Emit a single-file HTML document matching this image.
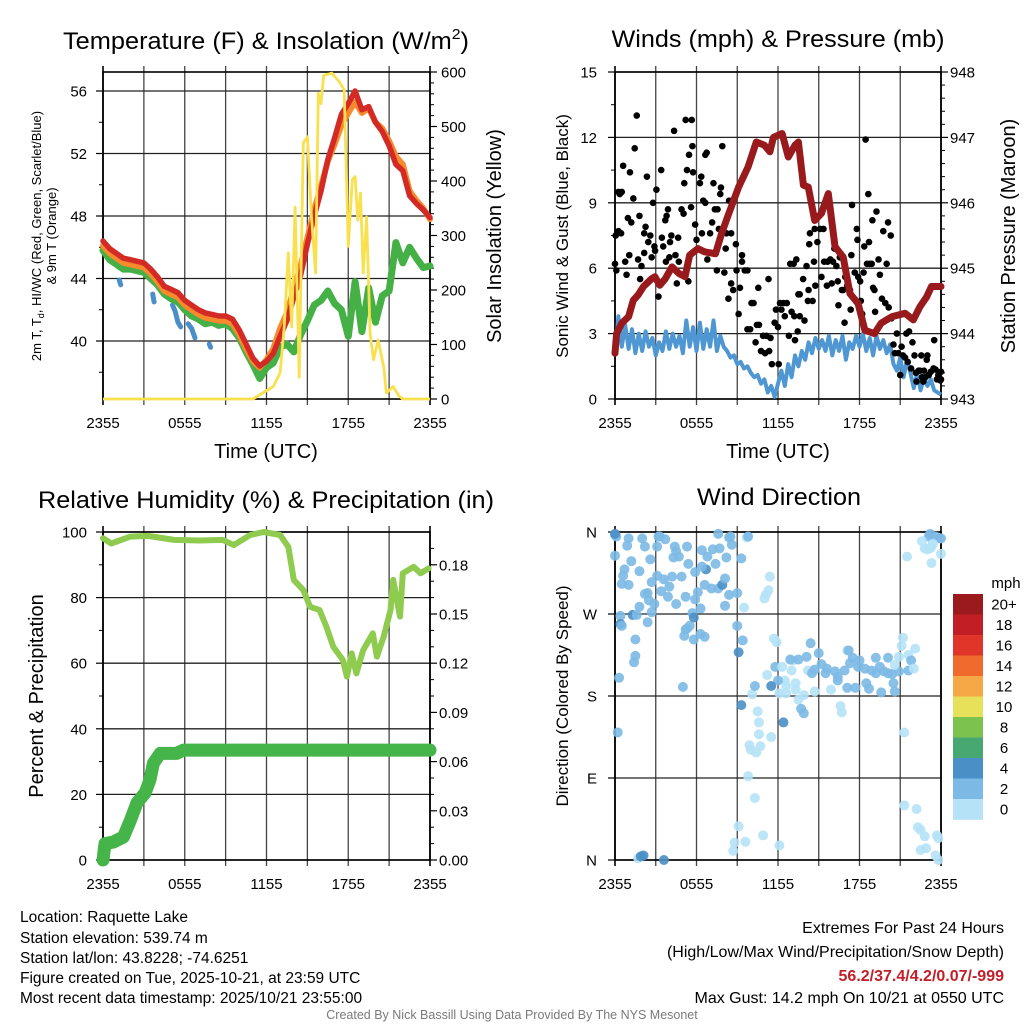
<!DOCTYPE html>
<html><head><meta charset="utf-8"><title>Raquette Lake Meteogram</title>
<style>
html,body{margin:0;padding:0;background:#fff;}
svg{display:block;font-family:"Liberation Sans",Arial,sans-serif;}
</style></head>
<body>
<svg id="chart" xmlns="http://www.w3.org/2000/svg" width="1024" height="1024" viewBox="0 0 1024 1024">
<rect x="0" y="0" width="1024" height="1024" fill="#fff"/>
<text x="266" y="49" font-size="24" text-anchor="middle" textLength="406" lengthAdjust="spacingAndGlyphs">Temperature (F) &amp; Insolation (W/m<tspan font-size="15" dy="-10">2</tspan><tspan dy="10">)</tspan></text>
<text x="778" y="47" font-size="24" text-anchor="middle" textLength="333" lengthAdjust="spacingAndGlyphs">Winds (mph) &amp; Pressure (mb)</text>
<text x="266" y="508" font-size="24" text-anchor="middle" textLength="456" lengthAdjust="spacingAndGlyphs">Relative Humidity (%) &amp; Precipitation (in)</text>
<text x="779" y="505" font-size="24" text-anchor="middle" textLength="164" lengthAdjust="spacingAndGlyphs">Wind Direction</text>

<text transform="translate(41,236) rotate(-90)" font-size="13" text-anchor="middle">2m T, T<tspan font-size="9" dy="3">d</tspan><tspan dy="-3">, HI/WC (Red, Green, Scarlet/Blue)</tspan></text>
<text transform="translate(56,236) rotate(-90)" font-size="13" text-anchor="middle">&amp; 9m T (Orange)</text>
<text transform="translate(501,236) rotate(-90)" font-size="20" text-anchor="middle">Solar Insolation (Yellow)</text>
<text transform="translate(568,236) rotate(-90)" font-size="17" text-anchor="middle">Sonic Wind &amp; Gust (Blue, Black)</text>
<text transform="translate(1015,236) rotate(-90)" font-size="20" text-anchor="middle">Station Pressure (Maroon)</text>
<text transform="translate(43,696) rotate(-90)" font-size="20" text-anchor="middle">Percent &amp; Precipitation</text>
<text transform="translate(568,696) rotate(-90)" font-size="17" text-anchor="middle">Direction (Colored By Speed)</text>
<text x="266" y="458" font-size="20" text-anchor="middle">Time (UTC)</text>
<text x="778" y="458" font-size="20" text-anchor="middle">Time (UTC)</text>

<g font-size="15.5">
<text x="20" y="922">Location: Raquette Lake</text>
<text x="20" y="943">Station elevation: 539.74 m</text>
<text x="20" y="963">Station lat/lon: 43.8228; -74.6251</text>
<text x="20" y="983">Figure created on Tue, 2025-10-21, at 23:59 UTC</text>
<text x="20" y="1003">Most recent data timestamp: 2025/10/21 23:55:00</text>
</g>
<g font-size="16" text-anchor="end">
<text x="1004" y="933">Extremes For Past 24 Hours</text>
<text x="1004" y="957">(High/Low/Max Wind/Precipitation/Snow Depth)</text>
<text x="1004" y="981" fill="#c0202a" font-weight="bold">56.2/37.4/4.2/0.07/-999</text>
<text x="1004" y="1003">Max Gust: 14.2 mph On 10/21 at 0550 UTC</text>
</g>
<text x="512" y="1019" font-size="12.5" fill="#7a7a7a" text-anchor="middle">Created By Nick Bassill Using Data Provided By The NYS Mesonet</text>
</svg>
<script>
// ---------- DATA ----------
const timeTicks = [0, 6, 12, 18, 24];
const timeTickLabels = ["2355", "0555", "1155", "1755", "2355"];
const tempTimes = [0,0.5,1,1.5,2,2.5,3,3.5,4,4.5,5,5.5,6,6.5,7,7.5,8,8.5,9,9.5,10,10.5,11,11.5,12,12.5,13,13.5,14,14.5,15,15.5,16,16.5,17,17.5,18,18.5,19,19.5,20,20.5,21,21.5,22,22.5,23,23.5,24];
const tempRed = [46.4,45.9,45.6,45.3,45.2,45.1,45.0,44.6,44.1,43.5,43.3,43.1,42.6,42.3,42.0,41.8,41.7,41.6,41.6,41.4,40.7,39.8,38.9,38.4,38.7,39.2,40.3,41.3,42.8,44.2,46.2,48.0,49.6,51.6,53.0,54.5,55.2,56.0,54.8,55.0,54.0,53.4,52.5,51.3,50.9,49.3,48.8,48.4,47.9];
const tempOrange = [46.1,45.6,45.3,45.0,44.9,44.8,44.7,44.3,43.8,43.2,43.0,42.8,42.3,42.0,41.7,41.5,41.4,41.3,41.3,41.1,40.4,39.5,38.7,38.3,38.8,39.5,40.8,41.8,43.3,44.8,46.6,48.4,49.9,51.5,52.6,53.8,54.6,55.3,54.6,54.9,54.0,53.6,52.8,51.8,51.3,49.6,49.0,48.5,47.8];
const dewGreen = [45.8,45.2,44.9,44.6,44.6,44.5,44.4,44.0,43.6,43.0,42.7,42.5,42.0,41.6,41.4,41.1,41.2,41.0,41.1,40.8,40.2,39.3,38.5,37.6,38.3,38.6,39.6,39.8,39.3,40.4,41.3,42.3,42.6,43.2,42.4,42.0,40.3,43.8,40.6,43.4,41.2,42.9,43.2,46.3,45.0,46.0,45.3,44.7,44.8];
const wcBlueTimes = [1.2,1.3,null,3.65,3.75,null,5.1,5.3,5.5,5.7,null,6.25,6.5,6.75,null,7.8,7.9];
const wcBlueValues = [43.9,43.6,null,43.0,42.5,null,42.3,41.9,41.2,40.9,null,41.1,40.8,40.2,null,39.8,39.6];
const solarTimes = [0,11.0,12.5,13.0,13.3,13.6,13.85,14.1,14.4,14.7,15.0,15.3,15.6,15.8,16.0,16.2,16.8,17.4,17.7,18.0,18.3,18.5,18.7,18.9,19.1,19.35,19.6,19.85,20.2,20.6,20.8,21.3,21.7,22.0,24];
const solarValues = [0,0,23,48,132,268,132,352,40,470,481,334,231,561,542,594,598,580,567,280,402,408,328,378,231,334,121,72,108,59,11,23,6,0,0];
const windTimes = [0,0.25,0.5,0.75,1,1.25,1.5,1.75,2,2.25,2.5,2.75,3,3.25,3.5,3.75,4,4.25,4.5,4.75,5,5.25,5.5,5.75,6,6.25,6.5,6.75,7,7.25,7.5,7.75,8,8.25,8.5,8.75,9,9.25,9.5,9.75,10,10.25,10.5,10.75,11,11.25,11.5,11.75,12,12.25,12.5,12.75,13,13.25,13.5,13.75,14,14.25,14.5,14.75,15,15.25,15.5,15.75,16,16.25,16.5,16.75,17,17.25,17.5,17.75,18,18.25,18.5,18.75,19,19.25,19.5,19.75,20,20.25,20.5,20.75,21,21.25,21.5,21.75,22,22.25,22.5,22.75,23,23.25,23.5,23.75,24];
const windSpeed = [2.0,3.8,2.4,3.4,2.3,3.2,2.1,3.0,2.2,3.1,2.4,2.8,2.0,2.6,2.2,3.1,2.3,3.0,2.4,2.9,2.1,3.6,2.4,3.3,2.2,3.5,2.3,3.2,2.4,3.6,2.2,2.9,2.4,2.2,1.9,2.0,1.6,1.7,1.4,1.5,1.2,1.0,1.1,0.7,0.9,0.3,0.6,0.1,0.7,1.3,0.6,1.6,1.0,2.0,1.5,2.2,1.8,2.6,2.1,2.8,2.3,2.7,2.2,2.9,2.0,2.7,2.2,2.9,1.8,2.6,2.3,2.9,2.4,3.0,2.2,2.8,2.0,2.9,2.3,2.7,2.1,2.5,1.6,1.3,1.9,1.0,1.8,1.2,0.5,1.2,0.4,1.0,0.6,0.9,0.4,0.3,0.2];
const gustTimes = [0,0.1,0.05,0.25,0.45,0.25,0.5,0.35,0.6,1.1,1.45,1.6,1.35,0.95,1.2,0.85,1.05,0.75,1.8,1.7,1.95,1.85,2.35,2.25,2.15,2.45,2.6,2.15,2.7,2.8,3.05,2.9,2.95,3.4,3.2,3.45,3.55,3.7,3.8,3.9,3.75,4.0,4.05,4.15,4.35,4.45,4.55,4.65,4.7,4.9,5.05,5.1,5.2,5.3,5.45,5.6,5.65,5.7,5.75,5.4,5.9,6.0,6.25,6.35,6.4,6.5,6.65,6.65,6.75,6.8,7.0,7.15,7.25,7.35,7.5,7.55,7.65,7.75,7.8,7.9,8.05,8.15,8.2,8.4,8.55,8.35,8.55,8.7,8.9,8.95,9.1,9.2,9.35,9.35,9.55,9.75,9.75,9.95,10.05,10.2,10.35,10.45,10.55,10.6,10.75,10.9,11.05,11.15,11.3,11.35,11.45,11.55,11.75,11.85,12.0,12.05,12.15,12.25,12.4,12.5,12.65,12.8,12.9,13.0,13.15,13.2,13.25,13.35,13.45,13.5,13.6,13.6,13.85,13.95,14.1,14.2,14.25,14.3,14.35,14.55,14.65,14.7,14.75,14.9,15.1,15.2,15.35,15.4,15.45,15.6,15.65,15.85,15.95,16.05,16.15,16.3,16.4,16.45,16.55,16.7,16.8,16.9,16.95,17.1,17.3,17.35,17.4,17.45,17.65,17.8,17.85,17.9,18.05,18.1,18.2,18.3,18.35,18.45,18.55,18.65,18.7,18.75,18.9,18.95,19.0,19.1,19.15,19.25,19.4,19.5,19.65,19.75,19.9,20.0,20.1,20.15,20.3,20.35,20.5,20.6,20.75,20.85,21.0,21.1,21.2,21.35,21.45,21.55,21.65,21.8,21.9,22.05,22.15,22.2,22.35,22.45,22.55,22.6,22.7,22.75,22.85,22.95,23.0,23.1,23.25,23.45,23.5,23.6,23.7,23.8,23.95,24,24];
const gustSpeed = [6.2,5.9,7.5,7.7,7.6,9.5,9.5,9.4,10.7,10.4,11.5,13.0,9.2,8.3,8.1,5.7,6.6,6.3,8.4,6.4,6.1,5.5,10.2,7.9,7.6,7.2,7.5,6.7,6.5,9.0,9.6,7.0,6.8,10.5,4.7,7.4,7.0,8.2,8.4,8.7,6.3,6.5,7.2,7.5,12.3,6.6,5.3,7.4,6.3,8.7,8.5,9.9,12.8,10.5,11.2,8.8,12.8,11.6,10.4,5.4,8.0,7.3,9.9,10.2,7.6,9.1,9.0,11.2,11.3,6.4,7.6,8.1,9.9,8.7,5.9,8.7,7.8,9.4,9.7,11.6,5.8,6.9,7.6,9.1,7.6,4.6,5.3,5.0,7.1,5.9,3.9,5.1,6.6,6.3,5.9,5.9,3.2,3.2,4.4,4.4,2.6,3.4,5.1,3.4,2.2,2.9,2.1,2.9,5.5,2.2,2.8,1.6,3.5,4.1,3.3,1.6,4.4,4.1,4.4,3.8,4.4,2.9,6.2,4.0,6.2,3.8,2.7,6.4,3.1,4.8,4.8,3.8,5.5,3.6,6.1,4.5,5.0,7.1,7.6,4.5,6.3,7.8,5.2,7.2,7.8,5.6,7.8,6.3,9.0,5.2,6.3,6.4,5.3,6.3,6.9,6.1,5.4,4.3,6.5,5.0,5.0,3.5,5.6,5.2,5.0,4.1,6.6,8.9,5.8,7.8,7.3,5.6,5.4,4.5,3.9,5.8,7.0,11.9,6.2,9.4,7.2,6.2,6.2,8.2,5.1,5.0,4.0,8.6,6.4,5.7,4.6,7.7,4.4,6.2,8.1,4.2,7.5,3.7,2.5,2.1,3.0,2.1,1.1,2.4,2.0,1.9,3.0,1.7,3.1,1.4,2.6,2.0,1.2,0.8,1.3,1.3,2.0,1.0,0.8,1.3,1.0,1.8,2.0,1.1,1.25,1.4,2.7,1.35,0.9,1.1,0.85,1.25,0.9];
const pressureTimes = [0,0.12,0.5,1.0,1.35,1.7,2.1,2.7,2.94,3.3,3.7,4.2,4.7,5.15,5.5,6.1,6.6,7.4,7.85,8.3,9.1,9.8,10.4,11.0,11.4,11.66,12.3,12.76,13.25,13.5,13.87,14.23,14.7,15.2,15.7,16.2,16.8,17.3,17.9,18.4,19.1,19.6,20.4,21.35,21.96,22.45,22.94,23.3,24];
const pressureValues = [943.70,944.0,944.16,944.26,944.51,944.59,944.72,944.84,944.87,944.74,944.84,945.02,944.92,944.87,945.2,945.3,945.25,945.22,945.53,945.79,946.24,946.55,946.93,946.88,946.78,947.0,947.06,946.70,946.88,946.93,946.27,946.24,945.73,945.84,946.14,945.33,945.17,944.61,944.46,944.05,944.0,944.16,944.26,944.31,944.21,944.41,944.56,944.72,944.72];
const rhTimes = [0,0.6,2,3.3,5.2,7.1,8.8,9.6,10.8,11.8,13.0,13.6,14.0,14.7,15.2,15.9,16.4,16.9,17.6,17.9,18.25,18.6,19.1,19.8,20.1,20.6,21.1,21.3,21.8,22.0,22.8,23.3,23.9];
const rhValues = [98.1,96.5,98.6,98.8,97.6,97.4,97.6,96.0,99.1,100,99.1,95.5,85.4,82.3,77.2,76.2,71.1,65.0,61.0,55.9,63.0,56.9,64.0,69.1,62.0,68.1,76.2,85.4,74.2,87.4,89.4,87.4,88.9];
const precipTimes = [0,0.15,0.76,1.5,2.0,2.5,3.1,3.45,3.7,4.2,5.4,5.9,24];
const precipValues = [0,0.010,0.011,0.014,0.024,0.035,0.041,0.049,0.059,0.065,0.065,0.067,0.067];
const dirTimes = [0,0.1,0,0.9,1.0,2.0,2.2,3.1,3.2,3.7,3.3,4.4,4.5,4.7,4.3,5.3,5.4,6.4,6.8,7.2,7.7,7.6,8.4,8.5,8.6,9.7,9.8,9.3,8.2,7.4,6.7,6.4,5.9,1.2,0.7,0.6,1.8,2.6,3.1,2.7,3.6,4.2,4.9,0.5,1.0,4.0,3.4,3.9,2.4,2.2,2.5,2.9,4.5,5.2,5.9,6.1,6.6,7.1,7.6,7.9,8.1,8.4,9.0,6.3,5.7,5.8,8.1,1.8,2.7,1.3,1.6,0.4,0.4,0.5,2.4,5.3,5.2,5.5,5.1,5.8,6.3,6.6,1.5,1.5,1.4,0.3,5.0,9.0,9.4,9.1,9.3,0.2,9.5,11.4,11.3,11.1,11.0,11.7,11.9,14.4,17.1,17.2,21.2,21.1,22.1,21.6,21.8,20.9,13.1,12.9,13.5,14.1,15.0,15.2,15.6,17.5,18.0,19.2,20.1,11.8,12.3,11.2,13.0,14.2,14.5,14.7,15.5,16.2,16.4,16.9,17.3,17.9,18.4,18.9,19.2,19.5,19.8,20.1,20.4,20.9,21.6,22.0,20.6,12.5,13.3,12.0,11.5,12.6,10.1,10.3,12.1,12.6,13.3,13.9,13.5,14.7,15.9,16.4,17.1,17.7,18.5,18.7,19.6,20.5,20.6,13.7,13.9,16.6,16.7,10.5,10.6,12.4,10.6,11.5,9.9,10.0,10.4,10.7,21.3,9.8,10.3,21.3,22.2,22.3,22.5,22.8,23.7,23.8,22.5,22.9,23.6,23.8,10.9,12.1,9.1,8.8,9.6,8.7,1.7,1.9,2.1,3.6,0,23.2,23.1,23.6,23.9,24,22.6,23.3,23.4,22.8,23.0,23.2,24,21.5,23.3];
const dirValues = [357,355,334,345,353,353,344,344,355,352,355,344,339,333,332,344,325,340,333,341,342,358,354,355,346,354,355,331,332,325,319,322,316,328,319,312,317,330,312,305,308,311,311,303,302,300,295,289,293,292,285,281,281,289,286,294,302,298,298,302,309,291,293,276,271,266,279,278,272,269,269,268,259,257,261,254,253,257,246,242,248,245,242,224,217,200,190,257,241,228,170,140,277,311,296,291,287,243,239,238,230,230,244,235,232,225,219,223,219,220,220,223,227,215,210,222,219,222,222,212,212,203,208,208,205,209,205,207,201,208,216,212,210,208,205,212,207,205,204,207,208,210,214,197,194,197,191,191,182,191,183,183,187,181,176,185,187,197,189,189,194,188,184,194,185,166,161,169,162,163,151,151,138,135,126,121,118,125,140,92,68,60,56,36,33,26,27,24,11,13,5,0,27,16,37,19,20,10,2,4,5,0,358,358,355,355,353,353,350,344,347,342,341,342,336,333,326];
const dirSpeed = [3,3,3,3,3,3,3,3,3,3,3,3,3,3,3,3,3,3,3,3,3,3,3,3,3,1,3,3,3,3,5,3,3,3,3,3,3,3,3,3,3,3,3,3,3,3,3,3,3,3,3,3,3,3,3,3,3,3,3,5,3,3,3,3,3,5,3,3,3,5,3,3,5,3,3,3,3,3,3,3,3,3,3,3,3,3,3,3,3,5,5,3,1,1,1,1,1,1,1,3,1,3,1,1,1,1,3,1,1,3,3,3,3,3,3,3,3,3,3,3,1,1,1,1,3,3,3,3,3,3,3,3,3,3,3,3,3,3,3,3,3,1,1,1,1,3,5,1,1,3,1,1,1,1,1,1,1,3,3,3,3,3,3,3,3,3,3,1,1,1,1,5,1,1,1,1,1,1,1,1,1,1,1,1,1,1,1,1,1,1,1,1,1,1,1,1,1,1,1,5,5,5,5,3,3,3,3,3,1,1,1,1,1,1,1,1,1,1,1,1,1,1];
const speedBins = ["0","2","4","6","8","10","12","14","16","18","20+"];
const speedColors = ["#b5e2f7","#7cb9e4","#4a8fc7","#47a872","#7cc24f","#e6e05a","#f5a845","#f06a2e","#e0362a","#c21e26","#9a1a1e"];

// ---------- HELPERS ----------
const NS = "http://www.w3.org/2000/svg";
const svg = document.getElementById("chart");
function mk(tag, attrs, parent) {
  const e = document.createElementNS(NS, tag);
  for (const k in attrs) e.setAttribute(k, attrs[k]);
  (parent || svg).appendChild(e);
  return e;
}
function lin(d0, d1, r0, r1) { return v => r0 + (v - d0) / (d1 - d0) * (r1 - r0); }

const P1 = {x0:103, x1:430, y0:72, y1:399};
const P2 = {x0:615, x1:941, y0:72, y1:399};
const P3 = {x0:103, x1:430, y0:532, y1:860};
const P4 = {x0:615, x1:941, y0:532, y1:860};

function pathFrom(ts, vs, xs, ys) {
  let d = "", pen = false;
  for (let i = 0; i < ts.length; i++) {
    if (ts[i] === null || vs[i] === null) { pen = false; continue; }
    d += (pen ? "L" : "M") + xs(ts[i]).toFixed(1) + "," + ys(vs[i]).toFixed(1);
    pen = true;
  }
  return d;
}

function drawFrame(P, name, hLines) {
  const g = mk("g", {});
  
  
  const xs = lin(0, 24, P.x0, P.x1);
  for (let h = 3; h < 24; h += 3) {
    const gl = mk("line", {x1: xs(h), x2: xs(h), y1: P.y0 - 6, y2: P.y1 + 6, stroke: "#444", "stroke-width": 1.3}, g);
    
    
  }
  hLines.forEach(y => {
    const hl = mk("line", {x1: P.x0, x2: P.x1, y1: y, y2: y, stroke: "#222", "stroke-width": 1.3}, g);
    
    
  });
  const box = mk("rect", {x: P.x0, y: P.y0, width: P.x1 - P.x0, height: P.y1 - P.y0, fill: "none", stroke: "#000", "stroke-width": 1.6}, g);
  
  
  [P.x0, P.x1].forEach(x => {
    const t1 = mk("line", {x1: x, x2: x, y1: P.y0 - 6, y2: P.y1 + 6, stroke: "#000", "stroke-width": 1.6}, g);
    
    
  });
  timeTicks.forEach((t, i) => {
    const lb = mk("text", {x: xs(t), y: P.y1 + 29, "font-size": 15, "text-anchor": "middle"}, g);
    lb.textContent = timeTickLabels[i];
    
    
  });
  return g;
}

function yAxis(P, g, name, side, ticks, labels, minors, scale, labelX) {
  const x = side === "left" ? P.x0 : P.x1;
  const dir = side === "left" ? -1 : 1;
  ticks.forEach((v, i) => {
    const y = scale(v);
    const tk = mk("line", {x1: x, x2: x + dir * 7, y1: y, y2: y, stroke: "#000", "stroke-width": 1.2}, g);
    
    
    const lb = mk("text", {x: labelX, y: y + 5.5, "font-size": 15, "text-anchor": side === "left" ? "end" : "start"}, g);
    lb.textContent = labels[i];
    
    
  });
  minors.forEach(v => {
    const y = scale(v);
    const mt = mk("line", {x1: x, x2: x + dir * 4, y1: y, y2: y, stroke: "#000", "stroke-width": 1}, g);
    
    
  });
}
function range(a, b, s) { const r = []; for (let v = a; v <= b + 1e-9; v += s) r.push(+v.toFixed(4)); return r; }

// ---------- PANEL 1: TEMPERATURE ----------
{
  const xs = lin(0, 24, P1.x0, P1.x1);
  const yT = lin(40, 56, 341, 91);
  const yS = lin(0, 600, 399, 72);
  const g = drawFrame(P1, "temperature", [56,52,48,44,40].map(yT));
  yAxis(P1, g, "temperature-left-axis", "left", [40,44,48,52,56], ["40","44","48","52","56"], [38,42,46,50,54], yT, 87);
  yAxis(P1, g, "insolation-right-axis", "right", [0,100,200,300,400,500,600], ["0","100","200","300","400","500","600"], range(20, 580, 20), yS, 441);
  const blue = mk("path", {d: pathFrom(wcBlueTimes, wcBlueValues, xs, yT), fill: "none", stroke: "#4a8fc8", "stroke-width": 5, "stroke-linecap": "round", "stroke-linejoin": "round"});
  
  
  const green = mk("path", {d: pathFrom(tempTimes, dewGreen, xs, yT), fill: "none", stroke: "#44b045", "stroke-width": 7, "stroke-linejoin": "round", "stroke-linecap": "round"});
  
  
  const orange = mk("path", {d: pathFrom(tempTimes, tempOrange, xs, yT), fill: "none", stroke: "#f68a2c", "stroke-width": 6, "stroke-linejoin": "round", "stroke-linecap": "round"});
  
  
  const red = mk("path", {d: pathFrom(tempTimes, tempRed, xs, yT), fill: "none", stroke: "#d42a26", "stroke-width": 5.5, "stroke-linejoin": "round", "stroke-linecap": "round"});
  
  
  const yel = mk("path", {d: pathFrom(solarTimes, solarValues, xs, yS), fill: "none", stroke: "#f8e04e", "stroke-width": 2.8, "stroke-linejoin": "round"});
  
  
}

// ---------- PANEL 2: WINDS ----------
{
  const xs = lin(0, 24, P2.x0, P2.x1);
  const yW = lin(0, 15, 399, 72);
  const yP = lin(943, 948, 399, 72);
  const g = drawFrame(P2, "winds", [0,3,6,9,12,15].map(yW));
  yAxis(P2, g, "wind-left-axis", "left", [0,3,6,9,12,15], ["0","3","6","9","12","15"], [1.5,4.5,7.5,10.5,13.5], yW, 597);
  yAxis(P2, g, "pressure-right-axis", "right", [943,944,945,946,947,948], ["943","944","945","946","947","948"], range(943.2, 947.8, 0.2).filter(v => Math.abs(v - Math.round(v)) > 0.01), yP, 950);
  const wl = mk("path", {d: pathFrom(windTimes, windSpeed, xs, yW), fill: "none", stroke: "#4f97d3", "stroke-width": 4, "stroke-linejoin": "round"});
  
  
  const dg = mk("g", {});
  
  
  for (let i = 0; i < gustTimes.length; i++) {
    const c = mk("circle", {cx: xs(gustTimes[i]), cy: yW(gustSpeed[i]), r: 3.3, fill: "#000"}, dg);
    
    
  }
  const pl = mk("path", {d: pathFrom(pressureTimes, pressureValues, xs, yP), fill: "none", stroke: "#991a1c", "stroke-width": 7, "stroke-linejoin": "round", "stroke-linecap": "round"});
  
  
}

// ---------- PANEL 3: HUMIDITY ----------
{
  const xs = lin(0, 24, P3.x0, P3.x1);
  const yR = lin(0, 100, 860, 532);
  const yPr = lin(0, 0.2, 860, 532);
  const g = drawFrame(P3, "humidity", [0,20,40,60,80,100].map(yR));
  yAxis(P3, g, "percent-left-axis", "left", [0,20,40,60,80,100], ["0","20","40","60","80","100"], [10,30,50,70,90], yR, 87);
  yAxis(P3, g, "precip-right-axis", "right", [0,0.03,0.06,0.09,0.12,0.15,0.18], ["0.00","0.03","0.06","0.09","0.12","0.15","0.18"], [0.01,0.02,0.04,0.05,0.07,0.08,0.1,0.11,0.13,0.14,0.16,0.17,0.19], yPr, 439);
  const rl = mk("path", {d: pathFrom(rhTimes, rhValues, xs, yR), fill: "none", stroke: "#8fcb4f", "stroke-width": 6, "stroke-linejoin": "round", "stroke-linecap": "round"});
  
  
  const pr = mk("path", {d: pathFrom(precipTimes, precipValues, xs, yPr), fill: "none", stroke: "#45b449", "stroke-width": 13, "stroke-linejoin": "round", "stroke-linecap": "round"});
  
  
}

// ---------- PANEL 4: WIND DIRECTION ----------
{
  const xs = lin(0, 24, P4.x0, P4.x1);
  const yD = lin(0, 360, 860, 532);
  const g = drawFrame(P4, "direction", [0,90,180,270,360].map(yD));
  yAxis(P4, g, "direction-left-axis", "left", [0,90,180,270,360], ["N","E","S","W","N"], [], yD, 597);
  const dg = mk("g", {});
  
  
  for (let i = 0; i < dirTimes.length; i++) {
    const bin = Math.min(10, Math.floor(dirSpeed[i] / 2));
    const c = mk("circle", {cx: xs(dirTimes[i]), cy: yD(dirValues[i]), r: 5, fill: speedColors[bin], "fill-opacity": 0.9}, dg);
    
    
  }
  const cb = mk("g", {});
  
  
  const top = 594, h = 20.5;
  const ut = mk("text", {x: 1006, y: 588, "font-size": 15, "text-anchor": "middle"}, cb);
  ut.textContent = "mph";
  
  
  for (let i = 0; i < speedColors.length; i++) {
    const k = speedColors.length - 1 - i;
    const r = mk("rect", {x: 953, y: top + i * h, width: 30, height: h + 0.3, fill: speedColors[k]}, cb);
    
    
    const t = mk("text", {x: 1004, y: top + i * h + 15.5, "font-size": 15, "text-anchor": "middle"}, cb);
    t.textContent = speedBins[k];
    
    
  }
}
</script>
</body></html>
